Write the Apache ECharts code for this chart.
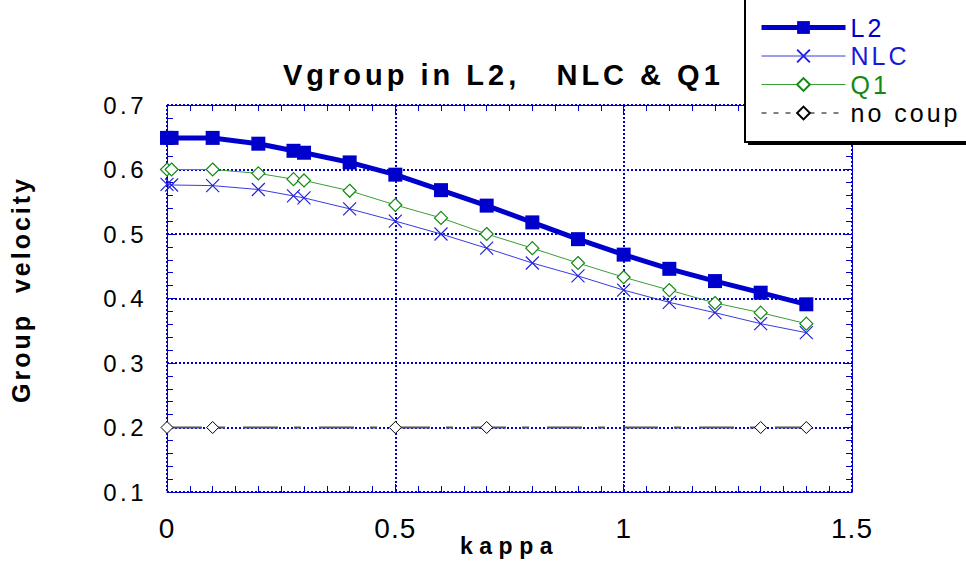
<!DOCTYPE html>
<html>
<head>
<meta charset="utf-8">
<title>Vgroup in L2, NLC & Q1</title>
<script src="https://cdn.jsdelivr.net/npm/echarts@6/dist/echarts.min.js"></script>
<style>
  html, body { margin: 0; padding: 0; background: #fff; }
  #chart { width: 966px; height: 566px; }
  /* spaced-out lettering, keyed on the font size of each text role */
  #chart text { white-space: pre; }
  #chart text[style*="23px"] { letter-spacing: 6.5px; }
  #chart text[style*="24px"] { letter-spacing: 3.5px; }
  #chart text[style*="25px"] { letter-spacing: 3px; }
  #chart text[style*="28px"] { letter-spacing: 1px; }
  #chart text[style*="29px"] { letter-spacing: 4px; }
</style>
</head>
<body>
<div id="chart"></div>
<script>
// coupling strength kappa and group velocities for each model
const kappa = [0, 0.01, 0.1, 0.2, 0.277, 0.3, 0.4, 0.5, 0.6, 0.7, 0.8, 0.9, 1.0, 1.1, 1.2, 1.3, 1.4];
const vgL2  = [0.649, 0.649, 0.649, 0.640, 0.629, 0.626, 0.611, 0.592, 0.568, 0.544, 0.518, 0.492, 0.468, 0.446, 0.427, 0.409, 0.391];
const vgNLC = [0.577, 0.576, 0.575, 0.569, 0.559, 0.556, 0.539, 0.520, 0.500, 0.478, 0.455, 0.435, 0.413, 0.394, 0.378, 0.361, 0.347];
const vgQ1  = [0.600, 0.600, 0.600, 0.594, 0.585, 0.583, 0.567, 0.545, 0.525, 0.500, 0.478, 0.455, 0.433, 0.413, 0.393, 0.378, 0.361];
const kappaNoCoup = [0, 0.1, 0.5, 0.7, 1.3, 1.4];
const vgNoCoup    = [0.2, 0.2, 0.2, 0.2, 0.2, 0.2];

const seriesNames = ['L2', 'NLC', 'Q1', 'no coup'];
const xTicks = [0, 0.5, 1, 1.5];
const yTicks = [0.1, 0.2, 0.3, 0.4, 0.5, 0.6, 0.7];

const FONT = '"Liberation Sans", Arial, sans-serif';
const BLUE = '#0000cc';
const GREEN = '#128a12';

const pairs = (xs, ys) => xs.map((x, i) => [x, ys[i]]);

const frameLine = { show: true, onZero: false, lineStyle: { color: BLUE, width: 1 } };
const frameTick = { show: true, inside: true, length: 8, lineStyle: { color: BLUE, width: 1 } };
const minor = n => ({ show: true, splitNumber: n, length: 6, lineStyle: { color: BLUE, width: 1 } });
const dottedGrid = { show: true, lineStyle: { color: BLUE, width: 2, type: [2, 2] } };

const chart = echarts.init(document.getElementById('chart'), null, { renderer: 'svg' });

chart.setOption({
  animation: false,
  backgroundColor: '#fff',
  title: {
    text: 'Vgroup in L2,\u00a0\u00a0 NLC & Q1',
    left: 278,
    top: 55,
    textStyle: { fontFamily: FONT, fontSize: 29, fontWeight: 'bold', color: '#000' }
  },
  graphic: [
    { type: 'rect', z: 10, shape: { x: 748, y: -2, width: 240, height: 147 }, style: { fill: '#000' } },
    { type: 'rect', z: 11, shape: { x: 745, y: -5, width: 240, height: 147 }, style: { fill: '#fff', stroke: '#000', lineWidth: 2 } }
  ],
  legend: {
    z: 12,
    orient: 'vertical',
    left: 759,
    top: 15,
    padding: 0,
    itemWidth: 84,
    itemHeight: 16,
    itemGap: 3.5,
    lineStyle: { width: 'inherit' },
    textStyle: { fontFamily: FONT, fontSize: 25 },
    data: [
      { name: seriesNames[0], textStyle: { color: BLUE } },
      { name: seriesNames[1], textStyle: { color: '#1a1ad6' } },
      { name: seriesNames[2], textStyle: { color: GREEN } },
      { name: seriesNames[3], textStyle: { color: '#000' },
        lineStyle: { color: '#000', width: 1, type: [5, 7] } }
    ]
  },
  grid: { left: 167, right: 114, top: 105, bottom: 74, containLabel: false, outerBoundsMode: 'none' },
  xAxis: [
    {
      type: 'value', position: 'bottom',
      min: xTicks[0], max: xTicks[xTicks.length - 1], interval: xTicks[1] - xTicks[0],
      axisLine: frameLine, axisTick: frameTick, minorTick: minor(10),
      axisLabel: { margin: 22, fontFamily: FONT, fontSize: 28, color: '#000' },
      splitLine: dottedGrid,
      name: 'kappa', nameLocation: 'middle', nameGap: 42, nameMoveOverlap: false,
      nameTextStyle: { fontFamily: FONT, fontSize: 23, fontWeight: 'bold', color: '#000' }
    },
    {
      type: 'value', position: 'top',
      min: xTicks[0], max: xTicks[xTicks.length - 1], interval: xTicks[1] - xTicks[0],
      axisLine: frameLine, axisTick: frameTick, minorTick: minor(10),
      axisLabel: { show: false }, splitLine: { show: false }
    }
  ],
  yAxis: [
    {
      type: 'value', position: 'left',
      min: yTicks[0], max: yTicks[yTicks.length - 1], interval: 0.1,
      axisLine: frameLine, axisTick: frameTick, minorTick: minor(5),
      axisLabel: { margin: 20, fontFamily: FONT, fontSize: 24, color: '#000',
                   formatter: v => (Math.round(v * 10) / 10).toFixed(1) },
      splitLine: dottedGrid,
      name: 'Group\u00a0 velocity', nameLocation: 'middle', nameGap: 134, nameRotate: 90,
      nameMoveOverlap: false,
      nameTextStyle: { fontFamily: FONT, fontSize: 25, fontWeight: 'bold', color: '#000',
                       padding: [0, 0, 0, 18] }
    },
    {
      type: 'value', position: 'right',
      min: yTicks[0], max: yTicks[yTicks.length - 1], interval: 0.1,
      axisLine: frameLine, axisTick: frameTick, minorTick: minor(5),
      axisLabel: { show: false }, splitLine: { show: false }
    }
  ],
  series: [
    {
      name: seriesNames[3], type: 'line', z: 3,
      data: pairs(kappaNoCoup, vgNoCoup),
      symbol: 'diamond', symbolSize: 12,
      lineStyle: { color: '#555', width: 2, type: [35, 16, 7, 18] },
      itemStyle: { color: '#fff', borderColor: '#000', borderWidth: 1 }
    },
    {
      name: seriesNames[1], type: 'line', z: 4,
      data: pairs(kappa, vgNLC),
      symbol: 'path://M0 0L10 10M10 0L0 10', symbolSize: 13,
      lineStyle: { color: '#3a3ae0', width: 1 },
      itemStyle: { color: 'none', borderColor: '#2323dd', borderWidth: 1.2 }
    },
    {
      name: seriesNames[2], type: 'line', z: 4,
      data: pairs(kappa, vgQ1),
      symbol: 'diamond', symbolSize: 13,
      lineStyle: { color: '#3a9d3a', width: 1 },
      itemStyle: { color: '#fff', borderColor: GREEN, borderWidth: 1.2 }
    },
    {
      name: seriesNames[0], type: 'line', z: 5,
      data: pairs(kappa, vgL2),
      symbol: 'rect', symbolSize: 14,
      lineStyle: { color: BLUE, width: 5 },
      itemStyle: { color: BLUE, borderWidth: 0 }
    }
  ]
});
</script>
</body>
</html>
